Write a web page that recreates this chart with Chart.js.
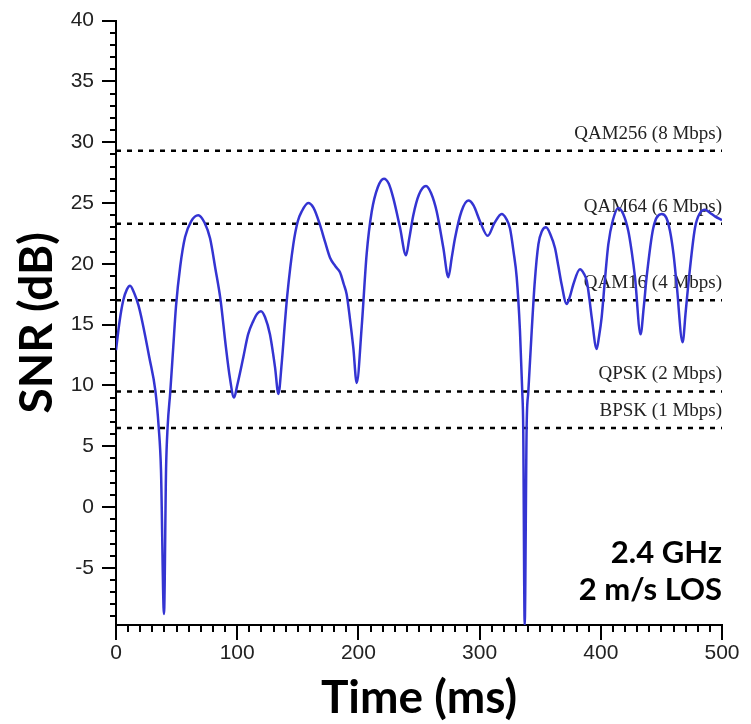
<!DOCTYPE html>
<html>
<head>
<meta charset="utf-8">
<script src="https://cdn.jsdelivr.net/npm/chart.js@4/dist/chart.umd.min.js"></script>
<style>
  html, body { margin: 0; padding: 0; background: #fff; }
  #wrap { width: 751px; height: 724px; }
</style>
</head>
<body>
<div id="wrap"><canvas id="snrChart" width="751" height="724"></canvas></div>
<script>
// SNR trace (time in ms, SNR in dB)
const timeMs = [
  0, 3, 6, 9, 11.6, 15, 18.5, 22, 27.5, 32.5, 35.2, 37.1, 39.6, 41.3, 42.6, 44.8, 47.2, 49.5, 53, 57,
  62, 67.9, 73, 77.6, 82, 86.3, 90.5, 94, 97.4, 100, 105, 109, 113.3, 116.5, 119.6, 123, 127, 131.2, 134, 136.7,
  139.4, 141.3, 146.3, 150, 153.2, 158.6, 163, 168.3, 172.5, 176.6, 181, 184.8, 188, 190.3, 193, 195.8, 198.6, 202.7, 206.8,
  211, 216, 221.1, 225, 228.8, 234.3, 239.3, 242, 245.3, 250, 255.8, 260, 264.6, 270.1, 274.2, 277, 279.7, 285, 290.7, 295,
  300.3, 306.7, 312, 318.2, 322, 325.1, 328, 330.6, 333.3, 335.2, 336, 337.2, 338.8, 340.2, 343, 345.5, 348.5, 351.5, 354.8, 358.5,
  362.2, 365, 367.7, 371.8, 374.5, 377.3, 382.8, 386, 388.4, 390.5, 392.5, 396.6, 398.5, 400.7, 403.5, 406.2, 410, 414.4, 418.5, 422.7,
  425.5, 428.2, 432.8, 435.5, 437.8, 443.3, 450.2, 454, 457.1, 460, 462.6, 467.5, 470, 472.2, 477.7, 482, 486, 490, 494.2, 500
];
const snrDb = [
  12.9, 15.3, 17.0, 17.9, 18.2, 17.6, 16.6, 15.1, 12.3, 9.55, 6.6, 3.1, -8.8, 3.1, 6.6, 9.5, 13.1, 16.5, 19.8, 22.2,
  23.5, 24.0, 23.4, 22.1, 19.6, 17.0, 13.3, 10.6, 9.0, 10.0, 12.3, 14.2, 15.3, 15.9, 16.1, 15.6, 14.2, 11.5, 9.3, 11.8,
  15.2, 17.4, 21.6, 23.5, 24.3, 25.0, 24.6, 23.2, 21.8, 20.5, 19.8, 19.3, 18.3, 17.5, 15.5, 13.1, 10.2, 14.8, 20.8,
  24.3, 26.3, 27.0, 26.6, 25.4, 23.0, 20.7, 22.1, 24.0, 25.7, 26.4, 25.8, 24.3, 21.3, 18.9, 20.5, 22.1, 24.3, 25.2, 24.8,
  23.5, 22.3, 23.3, 24.1, 23.7, 22.9, 21.0, 18.9, 14.5, 9.5, 6.5, -9.7, 6.5, 9.5, 14.5, 18.5, 21.6, 22.7, 23.0, 22.4,
  21.3, 19.8, 18.3, 16.7, 17.3, 18.3, 19.55, 19.2, 18.6, 17.2, 15.6, 13.0, 14.0, 15.6, 18.8, 21.6, 23.6, 24.6, 24.1, 22.7,
  21.0, 18.9, 14.2, 16.5, 18.9, 22.95, 24.1, 23.8, 22.7, 20.8, 18.3, 13.55, 16.0, 18.3, 22.95, 24.2, 24.45, 24.2, 23.9, 23.6
];

// modulation thresholds (dashed lines)
const rateLabels = ["QAM256 (8 Mbps)", "QAM64 (6 Mbps)", "QAM16 (4 Mbps)", "QPSK (2 Mbps)", "BPSK (1 Mbps)"];
const rateSnr = [29.3, 23.3, 17.0, 9.5, 6.5];

// axis ticks
const xTicks = [0, 100, 200, 300, 400, 500];
const yTicks = [-5, 0, 5, 10, 15, 20, 25, 30, 35, 40];
const xMinorStep = 10;
const yMinorStep = 1;

const infoLines = ["2.4 GHz", "2 m/s LOS"];

const xMin = 0, xMax = 500, yMin = -9.7, yMax = 40;

const trace = timeMs.map((t, i) => ({ x: t, y: snrDb[i] }));

const rateSets = rateSnr.map((v, i) => ({
  label: rateLabels[i],
  data: [{ x: xMin, y: v }, { x: xMax, y: v }],
  borderColor: "#000",
  borderWidth: 2.5,
  borderDash: [5, 6],
  pointRadius: 0,
  fill: false
}));

// minor ticks, threshold captions and corner text
const extras = {
  id: "extras",
  beforeDatasetsDraw(chart) {
    const { ctx, scales: { x, y } } = chart;
    ctx.save();
    ctx.font = "19px 'Liberation Serif', 'Times New Roman', serif";
    ctx.fillStyle = "#222";
    ctx.textAlign = "right";
    ctx.textBaseline = "middle";
    rateSnr.forEach((v, i) => {
      ctx.fillText(rateLabels[i], x.getPixelForValue(xMax), y.getPixelForValue(v) - 17);
    });
    ctx.restore();
  },
  afterDraw(chart) {
    const { ctx, chartArea, scales: { x, y } } = chart;
    ctx.save();
    ctx.strokeStyle = "#000";
    ctx.lineWidth = 2;
    ctx.beginPath();
    for (let v = Math.ceil(yMin); v <= yMax; v += yMinorStep) {
      if (v % 5 === 0) continue;
      const py = Math.round(y.getPixelForValue(v));
      ctx.moveTo(chartArea.left - 6, py);
      ctx.lineTo(chartArea.left, py);
    }
    for (let v = xMin; v <= xMax; v += xMinorStep) {
      if (v % 100 === 0) continue;
      const px = Math.round(x.getPixelForValue(v));
      ctx.moveTo(px, chartArea.bottom);
      ctx.lineTo(px, chartArea.bottom + 7);
    }
    ctx.stroke();

    ctx.font = "bold 31px Lato, 'Open Sans', sans-serif";
    ctx.fillStyle = "#000";
    ctx.textAlign = "right";
    ctx.textBaseline = "alphabetic";
    ctx.fillText(infoLines[0], chartArea.right, chartArea.bottom - 62);
    ctx.fillText(infoLines[1], chartArea.right, chartArea.bottom - 25);
    ctx.restore();
  }
};

const tickFont = { family: "'Liberation Sans', Arial, sans-serif", size: 21 };
const titleFont = { family: "Lato, 'Open Sans', sans-serif", size: 46, weight: "bold" };

new Chart(document.getElementById("snrChart"), {
  type: "line",
  data: {
    datasets: [{
      label: "SNR",
      data: trace,
      borderColor: "rgb(52, 52, 210)",
      borderWidth: 2.5,
      pointRadius: 0,
      cubicInterpolationMode: "monotone",
      fill: false
    }, ...rateSets]
  },
  options: {
    responsive: false,
    animation: false,
    layout: { padding: { top: 18, right: 29, left: 0, bottom: 0 } },
    plugins: { legend: { display: false }, tooltip: { enabled: false } },
    scales: {
      x: {
        type: "linear",
        min: xMin,
        max: xMax,
        afterBuildTicks: s => { s.ticks = xTicks.map(v => ({ value: v })); },
        afterFit: s => { s.height = 99; },
        ticks: { font: tickFont, color: "#222", padding: 1, maxRotation: 0 },
        grid: { drawOnChartArea: false, color: "#000", lineWidth: 2, tickLength: 15 },
        border: { color: "#000", width: 2 },
        title: { display: true, text: "Time (ms)", font: titleFont, color: "#000", padding: { top: 0, bottom: -2 } }
      },
      y: {
        min: yMin,
        max: yMax,
        afterBuildTicks: s => { s.ticks = yTicks.map(v => ({ value: v })); },
        afterFit: s => { s.width = 116; },
        ticks: { font: tickFont, color: "#222", padding: 8 },
        grid: { drawOnChartArea: false, color: "#000", lineWidth: 2, tickLength: 14 },
        border: { color: "#000", width: 2 },
        title: { display: true, text: "SNR (dB)", font: titleFont, color: "#000", padding: { top: 10, bottom: 0 } }
      }
    }
  },
  plugins: [extras]
});
</script>
</body>
</html>
